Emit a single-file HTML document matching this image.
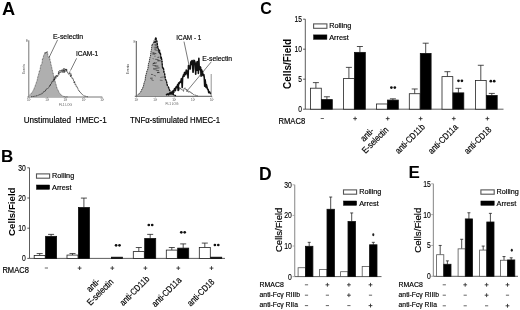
<!DOCTYPE html>
<html><head><meta charset="utf-8"><style>
html,body{margin:0;padding:0;background:#fff;}
svg{display:block;filter:grayscale(1) blur(0.3px);}
text{font-family:"Liberation Sans", sans-serif;}
</style></head><body>
<svg width="520" height="310" viewBox="0 0 520 310">
<rect width="520" height="310" fill="#fff"/>
<text x="2.00" y="15.00" font-size="18.2" text-anchor="start" font-weight="bold" >A</text>
<text x="1.00" y="162.00" font-size="17.0" text-anchor="start" font-weight="bold" >B</text>
<text x="260.30" y="13.80" font-size="16.0" text-anchor="start" font-weight="bold" >C</text>
<text x="259.00" y="180.00" font-size="17.5" text-anchor="start" font-weight="bold" >D</text>
<text x="408.50" y="178.00" font-size="17.0" text-anchor="start" font-weight="bold" >E</text>
<line x1="28.80" y1="40.30" x2="28.80" y2="97.00" stroke="#666" stroke-width="0.9"/>
<line x1="27.30" y1="97.00" x2="102.30" y2="97.00" stroke="#666" stroke-width="0.9"/>
<line x1="29.00" y1="97.00" x2="29.00" y2="98.20" stroke="#666" stroke-width="0.5"/>
<line x1="47.30" y1="97.00" x2="47.30" y2="98.20" stroke="#666" stroke-width="0.5"/>
<line x1="65.60" y1="97.00" x2="65.60" y2="98.20" stroke="#666" stroke-width="0.5"/>
<line x1="83.90" y1="97.00" x2="83.90" y2="98.20" stroke="#666" stroke-width="0.5"/>
<line x1="102.20" y1="97.00" x2="102.20" y2="98.20" stroke="#666" stroke-width="0.5"/>
<text x="28.60" y="101.40" font-size="3.0" text-anchor="middle" fill="#555" >10</text>
<text x="30.30" y="100.20" font-size="2.0" text-anchor="middle" fill="#555" >t</text>
<text x="46.90" y="101.40" font-size="3.0" text-anchor="middle" fill="#555" >10</text>
<text x="48.60" y="100.20" font-size="2.0" text-anchor="middle" fill="#555" >t</text>
<text x="65.20" y="101.40" font-size="3.0" text-anchor="middle" fill="#555" >10</text>
<text x="66.90" y="100.20" font-size="2.0" text-anchor="middle" fill="#555" >t</text>
<text x="83.50" y="101.40" font-size="3.0" text-anchor="middle" fill="#555" >10</text>
<text x="85.20" y="100.20" font-size="2.0" text-anchor="middle" fill="#555" >t</text>
<text x="101.80" y="101.40" font-size="3.0" text-anchor="middle" fill="#555" >10</text>
<text x="103.50" y="100.20" font-size="2.0" text-anchor="middle" fill="#555" >t</text>
<text x="27.00" y="42.10" font-size="3.2" text-anchor="middle" fill="#555" >E</text>
<text x="24.60" y="69.00" font-size="3.2" text-anchor="middle" transform="rotate(-90 24.60 69.00)" fill="#444" >Events</text>
<text x="65.50" y="105.80" font-size="3.2" text-anchor="middle" fill="#555" >FL1 LOG</text>
<path d="M29.50,95.12 L30.00,94.67 L30.50,94.27 L31.00,93.69 L31.50,93.09 L32.00,92.67 L32.50,91.97 L33.00,90.66 L33.50,90.09 L34.00,89.09 L34.50,87.27 L35.00,86.50 L35.50,84.71 L36.00,83.67 L36.50,81.87 L37.00,81.00 L37.50,78.43 L38.00,76.11 L38.50,74.92 L39.00,72.47 L39.50,70.65 L40.00,70.35 L40.50,66.42 L41.00,64.99 L41.50,64.09 L42.00,63.31 L42.50,58.64 L43.00,58.56 L43.50,56.21 L44.00,54.32 L44.50,53.96 L45.00,52.25 L45.50,53.93 L46.00,51.80 L46.50,53.24 L47.00,51.25 L47.50,51.98 L48.00,56.11 L48.50,56.97 L49.00,57.92 L49.50,56.54 L50.00,60.33 L50.50,61.59 L51.00,64.76 L51.50,66.25 L52.00,68.83 L52.50,71.16 L53.00,72.81 L53.50,75.05 L54.00,76.59 L54.50,79.13 L55.00,80.74 L55.50,82.76 L56.00,84.37 L56.50,86.36 L57.00,88.27 L57.50,88.98 L58.00,90.11 L58.50,91.21 L59.00,92.30 L59.50,93.03 L60.00,93.88 L60.50,94.28 L61.00,94.84 L61.50,95.30 L62.00,95.67 L62.50,95.85 L63.00,96.08 L63.50,96.34 L64.00,96.44 L64.50,96.58 L65.00,96.69 L65.50,96.76 L66.00,96.81 L66.50,96.85 L67.00,96.90 L67.50,96.92 L68.00,96.95 L68.00,97.00 L29.50,97.00 Z" fill="#afafaf" stroke="none"/>
<path d="M29.50,95.12 L30.00,94.67 L30.50,94.27 L31.00,93.69 L31.50,93.09 L32.00,92.67 L32.50,91.97 L33.00,90.66 L33.50,90.09 L34.00,89.09 L34.50,87.27 L35.00,86.50 L35.50,84.71 L36.00,83.67 L36.50,81.87 L37.00,81.00 L37.50,78.43 L38.00,76.11 L38.50,74.92 L39.00,72.47 L39.50,70.65 L40.00,70.35 L40.50,66.42 L41.00,64.99 L41.50,64.09 L42.00,63.31 L42.50,58.64 L43.00,58.56 L43.50,56.21 L44.00,54.32 L44.50,53.96 L45.00,52.25 L45.50,53.93 L46.00,51.80 L46.50,53.24 L47.00,51.25 L47.50,51.98 L48.00,56.11 L48.50,56.97 L49.00,57.92 L49.50,56.54 L50.00,60.33 L50.50,61.59 L51.00,64.76 L51.50,66.25 L52.00,68.83 L52.50,71.16 L53.00,72.81 L53.50,75.05 L54.00,76.59 L54.50,79.13 L55.00,80.74 L55.50,82.76 L56.00,84.37 L56.50,86.36 L57.00,88.27 L57.50,88.98 L58.00,90.11 L58.50,91.21 L59.00,92.30 L59.50,93.03 L60.00,93.88 L60.50,94.28 L61.00,94.84 L61.50,95.30 L62.00,95.67 L62.50,95.85 L63.00,96.08 L63.50,96.34 L64.00,96.44 L64.50,96.58 L65.00,96.69 L65.50,96.76 L66.00,96.81 L66.50,96.85 L67.00,96.90 L67.50,96.92 L68.00,96.95" fill="none" stroke="#444" stroke-width="0.7" stroke-dasharray="1 0.6"/>
<path d="M31.00,96.70 L31.40,96.66 L31.80,96.62 L32.20,96.56 L32.60,96.53 L33.00,96.46 L33.40,96.49 L33.80,96.39 L34.20,96.27 L34.60,96.24 L35.00,96.12 L35.40,96.16 L35.80,96.01 L36.20,95.96 L36.60,95.80 L37.00,95.68 L37.40,95.70 L37.80,95.53 L38.20,95.37 L38.60,95.02 L39.00,94.90 L39.40,94.96 L39.80,94.52 L40.20,94.61 L40.60,94.18 L41.00,94.22 L41.40,94.08 L41.80,93.31 L42.20,93.48 L42.60,93.21 L43.00,92.34 L43.40,92.10 L43.80,92.28 L44.20,91.32 L44.60,91.37 L45.00,90.85 L45.40,90.99 L45.80,89.72 L46.20,89.60 L46.60,88.78 L47.00,88.40 L47.40,88.82 L47.80,88.26 L48.20,88.12 L48.60,87.69 L49.00,87.36 L49.40,86.41 L49.80,85.27 L50.20,86.01 L50.60,83.98 L51.00,84.20 L51.40,83.72 L51.80,81.85 L52.20,82.15 L52.60,82.02 L53.00,80.98 L53.40,79.73 L53.80,81.13 L54.20,77.66 L54.60,80.19 L55.00,77.19 L55.40,76.27 L55.80,78.67 L56.20,75.32 L56.60,76.38 L57.00,75.05 L57.40,76.82 L57.80,76.24 L58.20,75.26 L58.60,71.58 L59.00,74.41 L59.40,71.60 L59.80,70.46 L60.20,70.05 L60.60,72.44 L61.00,72.13 L61.40,71.12 L61.80,69.74 L62.20,72.70 L62.60,69.54 L63.00,69.20 L63.40,68.83 L63.80,72.71 L64.20,68.37 L64.60,72.46 L65.00,71.30 L65.40,70.08 L65.80,68.71 L66.20,71.57 L66.60,68.99 L67.00,70.97 L67.40,72.29 L67.80,72.55 L68.20,73.49 L68.60,74.29 L69.00,74.38 L69.40,72.52 L69.80,71.77 L70.20,75.78 L70.60,76.79 L71.00,73.77 L71.40,76.19 L71.80,77.36 L72.20,78.67 L72.60,78.21 L73.00,78.27 L73.40,80.25 L73.80,81.15 L74.20,82.97 L74.60,81.50 L75.00,84.55 L75.40,84.24 L75.80,84.31 L76.20,86.58 L76.60,86.19 L77.00,86.60 L77.40,87.91 L77.80,88.41 L78.20,90.04 L78.60,90.24 L79.00,91.17 L79.40,91.01 L79.80,92.10 L80.20,92.46 L80.60,92.54 L81.00,93.12 L81.40,93.48 L81.80,94.15 L82.20,94.48 L82.60,94.69 L83.00,95.07 L83.40,95.38 L83.80,95.57 L84.20,95.82 L84.60,95.95 L85.00,96.00 L85.40,96.15 L85.80,96.32 L86.20,96.44 L86.60,96.55 L87.00,96.64 L87.40,96.69 L87.80,96.72" fill="none" stroke="#222" stroke-width="0.85" stroke-dasharray="1.2 0.5"/>
<text x="53.00" y="38.70" font-size="7.9" text-anchor="start" textLength="30.2" lengthAdjust="spacingAndGlyphs" stroke="#000" stroke-width="0.18" >E-selectin</text>
<line x1="57.60" y1="39.80" x2="49.30" y2="57.00" stroke="#222" stroke-width="0.6"/>
<text x="75.90" y="55.60" font-size="7.9" text-anchor="start" textLength="22.3" lengthAdjust="spacingAndGlyphs" stroke="#000" stroke-width="0.18" >ICAM-1</text>
<line x1="76.60" y1="58.30" x2="70.50" y2="70.50" stroke="#222" stroke-width="0.6"/>
<text x="23.70" y="123.00" font-size="8.9" text-anchor="start" textLength="83.0" lengthAdjust="spacingAndGlyphs" stroke="#000" stroke-width="0.18" xml:space="preserve">Unstimulated  HMEC-1</text>
<line x1="136.30" y1="41.00" x2="136.30" y2="96.30" stroke="#444" stroke-width="0.9"/>
<line x1="134.80" y1="96.30" x2="212.00" y2="96.30" stroke="#444" stroke-width="0.9"/>
<line x1="136.50" y1="96.30" x2="136.50" y2="97.50" stroke="#666" stroke-width="0.5"/>
<line x1="155.40" y1="96.30" x2="155.40" y2="97.50" stroke="#666" stroke-width="0.5"/>
<line x1="174.20" y1="96.30" x2="174.20" y2="97.50" stroke="#666" stroke-width="0.5"/>
<line x1="193.10" y1="96.30" x2="193.10" y2="97.50" stroke="#666" stroke-width="0.5"/>
<line x1="212.00" y1="96.30" x2="212.00" y2="97.50" stroke="#666" stroke-width="0.5"/>
<text x="136.10" y="100.70" font-size="3.0" text-anchor="middle" fill="#555" >10</text>
<text x="137.80" y="99.50" font-size="2.0" text-anchor="middle" fill="#555" >t</text>
<text x="155.00" y="100.70" font-size="3.0" text-anchor="middle" fill="#555" >10</text>
<text x="156.70" y="99.50" font-size="2.0" text-anchor="middle" fill="#555" >t</text>
<text x="173.80" y="100.70" font-size="3.0" text-anchor="middle" fill="#555" >10</text>
<text x="175.50" y="99.50" font-size="2.0" text-anchor="middle" fill="#555" >t</text>
<text x="192.70" y="100.70" font-size="3.0" text-anchor="middle" fill="#555" >10</text>
<text x="194.40" y="99.50" font-size="2.0" text-anchor="middle" fill="#555" >t</text>
<text x="211.60" y="100.70" font-size="3.0" text-anchor="middle" fill="#555" >10</text>
<text x="213.30" y="99.50" font-size="2.0" text-anchor="middle" fill="#555" >t</text>
<text x="134.50" y="42.80" font-size="3.2" text-anchor="middle" fill="#555" >E</text>
<text x="129.30" y="69.00" font-size="3.4" text-anchor="middle" transform="rotate(-90 129.30 69.00)" fill="#333" >Events</text>
<text x="172.00" y="105.00" font-size="3.2" text-anchor="middle" fill="#555" >FL1 LOG</text>
<path d="M137.50,95.00 L138.00,94.67 L138.50,94.20 L139.00,93.90 L139.50,93.37 L140.00,92.73 L140.50,92.26 L141.00,91.26 L141.50,90.25 L142.00,89.02 L142.50,88.60 L143.00,87.08 L143.50,85.98 L144.00,83.20 L144.50,81.59 L145.00,81.11 L145.50,76.79 L146.00,74.51 L146.50,73.04 L147.00,70.71 L147.50,69.95 L148.00,68.11 L148.50,63.33 L149.00,63.04 L149.50,59.93 L150.00,57.23 L150.50,56.17 L151.00,51.29 L151.50,49.33 L152.00,44.66 L152.50,45.20 L153.00,42.89 L153.50,42.79 L154.00,40.73 L154.50,41.80 L155.00,43.01 L155.50,37.62 L156.00,38.08 L156.50,39.99 L157.00,41.96 L157.50,46.03 L158.00,48.02 L158.50,49.20 L159.00,52.40 L159.50,49.90 L160.00,54.28 L160.50,53.95 L161.00,58.81 L161.50,58.27 L162.00,61.32 L162.50,67.49 L163.00,68.84 L163.50,68.47 L164.00,72.34 L164.50,72.93 L165.00,76.76 L165.50,79.51 L166.00,80.01 L166.50,81.48 L167.00,84.05 L167.50,85.78 L168.00,86.73 L168.50,87.18 L169.00,88.59 L169.50,90.21 L170.00,90.96 L170.50,91.83 L171.00,92.51 L171.50,92.74 L172.00,93.55 L172.50,93.86 L173.00,94.30 L173.50,94.70 L174.00,94.87 L174.50,95.22 L175.00,95.35 L175.50,95.59 L176.00,95.70 L176.00,96.30 L137.50,96.30 Z" fill="#afafaf" stroke="none"/>
<path d="M137.50,95.00 L138.00,94.67 L138.50,94.20 L139.00,93.90 L139.50,93.37 L140.00,92.73 L140.50,92.26 L141.00,91.26 L141.50,90.25 L142.00,89.02 L142.50,88.60 L143.00,87.08 L143.50,85.98 L144.00,83.20 L144.50,81.59 L145.00,81.11 L145.50,76.79 L146.00,74.51 L146.50,73.04 L147.00,70.71 L147.50,69.95 L148.00,68.11 L148.50,63.33 L149.00,63.04 L149.50,59.93 L150.00,57.23 L150.50,56.17 L151.00,51.29 L151.50,49.33 L152.00,44.66 L152.50,45.20 L153.00,42.89 L153.50,42.79 L154.00,40.73 L154.50,41.80 L155.00,43.01 L155.50,37.62 L156.00,38.08 L156.50,39.99 L157.00,41.96 L157.50,46.03 L158.00,48.02 L158.50,49.20 L159.00,52.40 L159.50,49.90 L160.00,54.28 L160.50,53.95 L161.00,58.81 L161.50,58.27 L162.00,61.32 L162.50,67.49 L163.00,68.84 L163.50,68.47 L164.00,72.34 L164.50,72.93 L165.00,76.76 L165.50,79.51 L166.00,80.01 L166.50,81.48 L167.00,84.05 L167.50,85.78 L168.00,86.73 L168.50,87.18 L169.00,88.59 L169.50,90.21 L170.00,90.96 L170.50,91.83 L171.00,92.51 L171.50,92.74 L172.00,93.55 L172.50,93.86 L173.00,94.30 L173.50,94.70 L174.00,94.87 L174.50,95.22 L175.00,95.35 L175.50,95.59 L176.00,95.70" fill="none" stroke="#222" stroke-width="0.9" stroke-dasharray="1.5 0.6"/>
<path d="M155.00,43.01 L155.50,37.62 L156.00,38.08 L156.50,39.99 L157.00,41.96 L157.50,46.03 L158.00,48.02 L158.50,49.20 L159.00,52.40 L159.50,49.90 L160.00,54.28 L160.50,53.95 L161.00,58.81 L161.50,58.27 L162.00,61.32 L162.50,67.49 L163.00,68.84 L163.50,68.47 L164.00,72.34 L164.50,72.93 L165.00,76.76 L165.50,79.51 L166.00,80.01 L166.50,81.48 L167.00,84.05 L167.50,85.78 L168.00,86.73 L168.50,87.18 L169.00,88.59 L169.50,90.21 L170.00,90.96 L170.50,91.83 L171.00,92.51 L171.50,92.74 L172.00,93.55 L172.50,93.86 L173.00,94.30 L173.50,94.70 L174.00,94.87 L174.50,95.22 L175.00,95.35 L175.50,95.59 L176.00,95.70" fill="none" stroke="#111" stroke-width="1.3" stroke-dasharray="2 0.8"/>
<line x1="154.57" y1="44.49" x2="156.57" y2="44.40" stroke="#222" stroke-width="1.00" opacity="0.54"/>
<line x1="154.51" y1="45.06" x2="157.41" y2="46.05" stroke="#222" stroke-width="0.90" opacity="0.60"/>
<line x1="153.71" y1="47.26" x2="157.46" y2="47.19" stroke="#222" stroke-width="0.97" opacity="0.50"/>
<line x1="155.45" y1="47.20" x2="158.21" y2="48.53" stroke="#222" stroke-width="0.91" opacity="0.72"/>
<line x1="154.34" y1="48.93" x2="156.51" y2="49.00" stroke="#222" stroke-width="1.10" opacity="0.64"/>
<line x1="154.61" y1="49.88" x2="158.36" y2="50.86" stroke="#222" stroke-width="0.84" opacity="0.53"/>
<line x1="152.90" y1="52.76" x2="156.38" y2="53.76" stroke="#222" stroke-width="1.08" opacity="0.68"/>
<line x1="152.22" y1="52.56" x2="153.78" y2="53.37" stroke="#222" stroke-width="0.73" opacity="0.60"/>
<line x1="153.60" y1="54.05" x2="155.12" y2="54.38" stroke="#222" stroke-width="0.78" opacity="0.73"/>
<line x1="152.10" y1="53.94" x2="154.13" y2="54.09" stroke="#222" stroke-width="1.01" opacity="0.57"/>
<line x1="157.47" y1="57.48" x2="159.30" y2="57.14" stroke="#222" stroke-width="1.00" opacity="0.66"/>
<line x1="154.10" y1="56.33" x2="155.84" y2="56.12" stroke="#222" stroke-width="0.77" opacity="0.50"/>
<line x1="155.11" y1="59.27" x2="158.53" y2="59.62" stroke="#222" stroke-width="0.75" opacity="0.74"/>
<line x1="152.47" y1="58.45" x2="154.15" y2="58.99" stroke="#222" stroke-width="0.72" opacity="0.53"/>
<line x1="157.09" y1="60.81" x2="159.59" y2="60.64" stroke="#222" stroke-width="0.74" opacity="0.76"/>
<line x1="157.85" y1="60.78" x2="161.15" y2="60.81" stroke="#222" stroke-width="0.82" opacity="0.68"/>
<line x1="153.08" y1="63.81" x2="156.76" y2="62.79" stroke="#222" stroke-width="1.02" opacity="0.69"/>
<line x1="152.58" y1="63.86" x2="154.82" y2="62.45" stroke="#222" stroke-width="0.88" opacity="0.79"/>
<line x1="154.63" y1="66.02" x2="158.40" y2="66.11" stroke="#222" stroke-width="0.91" opacity="0.78"/>
<line x1="152.50" y1="65.28" x2="156.21" y2="65.80" stroke="#222" stroke-width="0.94" opacity="0.55"/>
<line x1="155.54" y1="68.24" x2="159.51" y2="67.83" stroke="#222" stroke-width="0.85" opacity="0.76"/>
<line x1="153.14" y1="68.28" x2="156.31" y2="69.09" stroke="#222" stroke-width="0.78" opacity="0.68"/>
<line x1="155.91" y1="70.20" x2="159.06" y2="70.69" stroke="#222" stroke-width="0.79" opacity="0.75"/>
<line x1="153.05" y1="69.19" x2="155.55" y2="69.89" stroke="#222" stroke-width="0.70" opacity="0.56"/>
<line x1="157.09" y1="72.81" x2="159.01" y2="72.22" stroke="#222" stroke-width="0.78" opacity="0.71"/>
<line x1="157.00" y1="72.40" x2="159.67" y2="72.64" stroke="#222" stroke-width="0.95" opacity="0.72"/>
<line x1="151.17" y1="74.40" x2="152.72" y2="74.57" stroke="#222" stroke-width="0.93" opacity="0.79"/>
<line x1="153.57" y1="75.12" x2="155.99" y2="76.10" stroke="#222" stroke-width="0.94" opacity="0.55"/>
<line x1="160.28" y1="77.52" x2="163.76" y2="76.90" stroke="#222" stroke-width="0.88" opacity="0.49"/>
<line x1="150.08" y1="78.25" x2="152.70" y2="78.17" stroke="#222" stroke-width="0.87" opacity="0.78"/>
<line x1="151.33" y1="79.65" x2="153.52" y2="80.47" stroke="#222" stroke-width="0.85" opacity="0.74"/>
<line x1="159.85" y1="80.17" x2="162.54" y2="80.47" stroke="#222" stroke-width="0.89" opacity="0.51"/>
<path d="M166.00,95.51 L166.50,95.06 L167.00,94.86 L167.50,94.48 L168.00,95.00 L168.50,94.76 L169.00,94.69 L169.50,94.36 L170.00,93.18 L170.50,94.09 L171.00,92.95 L171.50,93.42 L172.00,92.94 L172.50,92.26 L173.00,90.65 L173.50,91.03 L174.00,92.86 L174.50,91.65 L175.00,91.94 L175.50,88.66 L176.00,88.62 L176.50,88.38 L177.00,88.06 L177.50,88.26 L178.00,87.12 L178.50,87.77 L179.00,90.38 L179.50,87.39 L180.00,89.21 L180.50,87.90 L181.00,88.90 L181.50,89.63 L182.00,90.02 L182.50,89.78 L183.00,90.42 L183.50,91.41 L184.00,88.25 L184.50,88.46 L185.00,87.74 L185.50,89.17 L186.00,89.88 L186.50,89.18 L187.00,91.89 L187.50,89.81 L188.00,90.93 L188.50,92.14 L189.00,92.23 L189.50,91.35 L190.00,92.51 L190.50,92.16 L191.00,92.09 L191.50,92.99 L192.00,93.92 L192.50,93.46 L193.00,94.26 L193.50,94.53 L194.00,94.84 L194.50,94.87 L195.00,95.38 L195.50,95.11 L196.00,95.14 L196.50,95.65 L197.00,95.66 L197.50,95.73 L198.00,96.07" fill="none" stroke="#333" stroke-width="0.6"/>
<path d="M166.00,94.86 L166.45,94.53 L166.90,94.56 L167.35,94.11 L167.80,94.07 L168.25,94.17 L168.70,94.64 L169.15,93.63 L169.60,93.55 L170.05,92.76 L170.50,93.48 L170.95,94.10 L171.40,93.89 L171.85,92.18 L172.30,91.48 L172.75,91.26 L173.20,93.41 L173.65,90.67 L174.10,90.32 L174.55,88.78 L175.00,88.51 L175.45,90.34 L175.90,87.33 L176.35,86.56 L176.80,87.12 L177.25,86.47 L177.70,84.52 L178.15,90.50 L178.60,83.15 L179.05,83.92 L179.50,82.46 L179.95,82.20 L180.40,81.44 L180.85,82.36 L181.30,78.81 L181.75,79.31 L182.20,87.44 L182.65,76.98 L183.10,76.59 L183.55,74.76 L184.00,76.32 L184.45,72.73 L184.90,72.27 L185.35,74.19 L185.80,74.62 L186.25,70.16 L186.70,71.27 L187.15,73.19 L187.60,71.00 L188.05,77.97 L188.50,65.51 L188.95,65.80 L189.40,68.57 L189.85,65.97 L190.30,69.01 L190.75,62.37 L191.20,61.42 L191.65,64.37 L192.10,60.52 L192.55,62.53 L193.00,72.25 L193.45,69.49 L193.90,60.41 L194.35,60.58 L194.80,61.81 L195.25,63.66 L195.70,74.22 L196.15,63.54 L196.60,70.22 L197.05,61.83 L197.50,70.12 L197.95,61.57 L198.40,73.35 L198.85,58.40 L199.30,69.77 L199.75,66.73 L200.20,66.88 L200.65,67.48 L201.10,76.15 L201.55,69.80 L202.00,71.38 L202.45,71.41 L202.90,75.57 L203.35,74.98 L203.80,74.48 L204.25,77.45 L204.70,86.13 L205.15,79.74 L205.60,83.50 L206.05,87.50 L206.50,84.82 L206.95,86.97 L207.40,88.94 L207.85,89.12 L208.30,90.14 L208.75,92.72 L209.20,91.88 L209.65,91.97 L210.10,92.91 L210.55,93.49 L211.00,93.79" fill="none" stroke="#111" stroke-width="1.6" stroke-linejoin="round"/>
<line x1="211.20" y1="74.00" x2="211.20" y2="96.30" stroke="#666" stroke-width="0.7"/>
<text x="176.30" y="40.30" font-size="7.9" text-anchor="start" textLength="25.0" lengthAdjust="spacingAndGlyphs" stroke="#000" stroke-width="0.18" xml:space="preserve">ICAM - 1</text>
<line x1="184.00" y1="41.60" x2="189.40" y2="67.00" stroke="#222" stroke-width="0.6"/>
<text x="202.30" y="60.60" font-size="7.9" text-anchor="start" textLength="29.8" lengthAdjust="spacingAndGlyphs" stroke="#000" stroke-width="0.18" >E-selectin</text>
<line x1="211.30" y1="61.80" x2="188.00" y2="89.80" stroke="#222" stroke-width="0.6"/>
<text x="130.00" y="122.60" font-size="8.9" text-anchor="start" textLength="90.0" lengthAdjust="spacingAndGlyphs" stroke="#000" stroke-width="0.18" >TNF&#945;-stimulated HMEC-1</text>
<line x1="29.50" y1="167.80" x2="29.50" y2="258.40" stroke="#333" stroke-width="0.8"/>
<line x1="29.50" y1="258.40" x2="225.00" y2="258.40" stroke="#333" stroke-width="0.8"/>
<line x1="27.30" y1="258.40" x2="29.50" y2="258.40" stroke="#333" stroke-width="0.8"/>
<text transform="translate(25.90,261.40) scale(0.8,1)" font-size="8.5" text-anchor="end" stroke="#000" stroke-width="0.15">0</text>
<line x1="27.30" y1="228.20" x2="29.50" y2="228.20" stroke="#333" stroke-width="0.8"/>
<text transform="translate(25.90,231.20) scale(0.8,1)" font-size="8.5" text-anchor="end" stroke="#000" stroke-width="0.15">10</text>
<line x1="27.30" y1="198.00" x2="29.50" y2="198.00" stroke="#333" stroke-width="0.8"/>
<text transform="translate(25.90,201.00) scale(0.8,1)" font-size="8.5" text-anchor="end" stroke="#000" stroke-width="0.15">20</text>
<line x1="27.30" y1="167.80" x2="29.50" y2="167.80" stroke="#333" stroke-width="0.8"/>
<text transform="translate(25.90,170.80) scale(0.8,1)" font-size="8.5" text-anchor="end" stroke="#000" stroke-width="0.15">30</text>
<text x="14.80" y="211.70" font-size="9.7" text-anchor="middle" font-weight="bold" transform="rotate(-90 14.80 211.70)" >Cells/Field</text>
<line x1="39.70" y1="255.50" x2="39.70" y2="253.57" stroke="#222" stroke-width="0.8"/>
<line x1="36.70" y1="253.57" x2="42.70" y2="253.57" stroke="#222" stroke-width="0.8"/>
<rect x="34.20" y="255.50" width="11.00" height="2.90" fill="#fff" stroke="#222" stroke-width="0.8"/>
<line x1="51.10" y1="236.35" x2="51.10" y2="234.39" stroke="#222" stroke-width="0.8"/>
<line x1="48.10" y1="234.39" x2="54.10" y2="234.39" stroke="#222" stroke-width="0.8"/>
<rect x="45.60" y="236.35" width="11.00" height="22.05" fill="#000" stroke="#111" stroke-width="0.8"/>
<line x1="72.50" y1="255.08" x2="72.50" y2="253.57" stroke="#222" stroke-width="0.8"/>
<line x1="69.50" y1="253.57" x2="75.50" y2="253.57" stroke="#222" stroke-width="0.8"/>
<rect x="67.00" y="255.08" width="11.00" height="3.32" fill="#fff" stroke="#222" stroke-width="0.8"/>
<line x1="83.90" y1="207.51" x2="83.90" y2="198.09" stroke="#222" stroke-width="0.8"/>
<line x1="80.90" y1="198.09" x2="86.90" y2="198.09" stroke="#222" stroke-width="0.8"/>
<rect x="78.40" y="207.51" width="11.00" height="50.89" fill="#000" stroke="#111" stroke-width="0.8"/>
<rect x="111.40" y="257.19" width="11.00" height="1.21" fill="#000" stroke="#111" stroke-width="0.8"/>
<line x1="138.80" y1="251.60" x2="138.80" y2="247.53" stroke="#222" stroke-width="0.8"/>
<line x1="135.80" y1="247.53" x2="141.80" y2="247.53" stroke="#222" stroke-width="0.8"/>
<rect x="133.30" y="251.60" width="11.00" height="6.79" fill="#fff" stroke="#222" stroke-width="0.8"/>
<line x1="150.20" y1="238.47" x2="150.20" y2="234.39" stroke="#222" stroke-width="0.8"/>
<line x1="147.20" y1="234.39" x2="153.20" y2="234.39" stroke="#222" stroke-width="0.8"/>
<rect x="144.70" y="238.47" width="11.00" height="19.93" fill="#000" stroke="#111" stroke-width="0.8"/>
<line x1="171.80" y1="250.09" x2="171.80" y2="247.53" stroke="#222" stroke-width="0.8"/>
<line x1="168.80" y1="247.53" x2="174.80" y2="247.53" stroke="#222" stroke-width="0.8"/>
<rect x="166.30" y="250.09" width="11.00" height="8.30" fill="#fff" stroke="#222" stroke-width="0.8"/>
<line x1="183.20" y1="248.13" x2="183.20" y2="243.90" stroke="#222" stroke-width="0.8"/>
<line x1="180.20" y1="243.90" x2="186.20" y2="243.90" stroke="#222" stroke-width="0.8"/>
<rect x="177.70" y="248.13" width="11.00" height="10.27" fill="#000" stroke="#111" stroke-width="0.8"/>
<line x1="204.80" y1="247.53" x2="204.80" y2="243.09" stroke="#222" stroke-width="0.8"/>
<line x1="201.80" y1="243.09" x2="207.80" y2="243.09" stroke="#222" stroke-width="0.8"/>
<rect x="199.30" y="247.53" width="11.00" height="10.87" fill="#fff" stroke="#222" stroke-width="0.8"/>
<rect x="210.70" y="257.19" width="11.00" height="1.21" fill="#000" stroke="#111" stroke-width="0.8"/>
<line x1="305.30" y1="19.20" x2="305.30" y2="109.20" stroke="#333" stroke-width="0.8"/>
<line x1="305.30" y1="109.20" x2="503.50" y2="109.20" stroke="#333" stroke-width="0.8"/>
<line x1="303.10" y1="109.20" x2="305.30" y2="109.20" stroke="#333" stroke-width="0.8"/>
<text transform="translate(301.90,112.20) scale(0.8,1)" font-size="8.3" text-anchor="end" stroke="#000" stroke-width="0.15">0</text>
<line x1="303.10" y1="79.20" x2="305.30" y2="79.20" stroke="#333" stroke-width="0.8"/>
<text transform="translate(301.90,82.20) scale(0.8,1)" font-size="8.3" text-anchor="end" stroke="#000" stroke-width="0.15">5</text>
<line x1="303.10" y1="49.20" x2="305.30" y2="49.20" stroke="#333" stroke-width="0.8"/>
<text transform="translate(301.90,52.20) scale(0.8,1)" font-size="8.3" text-anchor="end" stroke="#000" stroke-width="0.15">10</text>
<line x1="303.10" y1="19.20" x2="305.30" y2="19.20" stroke="#333" stroke-width="0.8"/>
<text transform="translate(301.90,22.20) scale(0.8,1)" font-size="8.3" text-anchor="end" stroke="#000" stroke-width="0.15">15</text>
<text x="291.00" y="63.90" font-size="10.0" text-anchor="middle" font-weight="bold" transform="rotate(-90 291.00 63.90)" >Cells/Field</text>
<line x1="315.90" y1="88.20" x2="315.90" y2="82.62" stroke="#222" stroke-width="0.8"/>
<line x1="312.90" y1="82.62" x2="318.90" y2="82.62" stroke="#222" stroke-width="0.8"/>
<rect x="310.50" y="88.20" width="10.80" height="21.00" fill="#fff" stroke="#222" stroke-width="0.8"/>
<line x1="326.90" y1="99.60" x2="326.90" y2="96.78" stroke="#222" stroke-width="0.8"/>
<line x1="323.90" y1="96.78" x2="329.90" y2="96.78" stroke="#222" stroke-width="0.8"/>
<rect x="321.50" y="99.60" width="10.80" height="9.60" fill="#000" stroke="#111" stroke-width="0.8"/>
<line x1="348.90" y1="78.60" x2="348.90" y2="67.38" stroke="#222" stroke-width="0.8"/>
<line x1="345.90" y1="67.38" x2="351.90" y2="67.38" stroke="#222" stroke-width="0.8"/>
<rect x="343.50" y="78.60" width="10.80" height="30.60" fill="#fff" stroke="#222" stroke-width="0.8"/>
<line x1="359.90" y1="52.38" x2="359.90" y2="46.50" stroke="#222" stroke-width="0.8"/>
<line x1="356.90" y1="46.50" x2="362.90" y2="46.50" stroke="#222" stroke-width="0.8"/>
<rect x="354.50" y="52.38" width="10.80" height="56.82" fill="#000" stroke="#111" stroke-width="0.8"/>
<rect x="376.50" y="103.98" width="10.80" height="5.22" fill="#fff" stroke="#222" stroke-width="0.8"/>
<line x1="392.90" y1="100.08" x2="392.90" y2="98.82" stroke="#222" stroke-width="0.8"/>
<line x1="389.90" y1="98.82" x2="395.90" y2="98.82" stroke="#222" stroke-width="0.8"/>
<rect x="387.50" y="100.08" width="10.80" height="9.12" fill="#000" stroke="#111" stroke-width="0.8"/>
<line x1="414.70" y1="93.72" x2="414.70" y2="88.98" stroke="#222" stroke-width="0.8"/>
<line x1="411.70" y1="88.98" x2="417.70" y2="88.98" stroke="#222" stroke-width="0.8"/>
<rect x="409.30" y="93.72" width="10.80" height="15.48" fill="#fff" stroke="#222" stroke-width="0.8"/>
<line x1="425.70" y1="53.40" x2="425.70" y2="43.20" stroke="#222" stroke-width="0.8"/>
<line x1="422.70" y1="43.20" x2="428.70" y2="43.20" stroke="#222" stroke-width="0.8"/>
<rect x="420.30" y="53.40" width="10.80" height="55.80" fill="#000" stroke="#111" stroke-width="0.8"/>
<line x1="447.40" y1="76.62" x2="447.40" y2="71.70" stroke="#222" stroke-width="0.8"/>
<line x1="444.40" y1="71.70" x2="450.40" y2="71.70" stroke="#222" stroke-width="0.8"/>
<rect x="442.00" y="76.62" width="10.80" height="32.58" fill="#fff" stroke="#222" stroke-width="0.8"/>
<line x1="458.40" y1="92.88" x2="458.40" y2="88.32" stroke="#222" stroke-width="0.8"/>
<line x1="455.40" y1="88.32" x2="461.40" y2="88.32" stroke="#222" stroke-width="0.8"/>
<rect x="453.00" y="92.88" width="10.80" height="16.32" fill="#000" stroke="#111" stroke-width="0.8"/>
<line x1="480.80" y1="80.52" x2="480.80" y2="65.28" stroke="#222" stroke-width="0.8"/>
<line x1="477.80" y1="65.28" x2="483.80" y2="65.28" stroke="#222" stroke-width="0.8"/>
<rect x="475.40" y="80.52" width="10.80" height="28.68" fill="#fff" stroke="#222" stroke-width="0.8"/>
<line x1="491.80" y1="95.52" x2="491.80" y2="93.42" stroke="#222" stroke-width="0.8"/>
<line x1="488.80" y1="93.42" x2="494.80" y2="93.42" stroke="#222" stroke-width="0.8"/>
<rect x="486.40" y="95.52" width="10.80" height="13.68" fill="#000" stroke="#111" stroke-width="0.8"/>
<line x1="294.70" y1="184.80" x2="294.70" y2="276.60" stroke="#999" stroke-width="1.2"/>
<line x1="294.70" y1="276.60" x2="381.50" y2="276.60" stroke="#333" stroke-width="0.8"/>
<line x1="292.50" y1="276.60" x2="294.70" y2="276.60" stroke="#999" stroke-width="0.8"/>
<text transform="translate(291.90,279.60) scale(0.8,1)" font-size="8.5" text-anchor="end" stroke="#000" stroke-width="0.15">0</text>
<line x1="292.50" y1="246.00" x2="294.70" y2="246.00" stroke="#999" stroke-width="0.8"/>
<text transform="translate(291.90,249.00) scale(0.8,1)" font-size="8.5" text-anchor="end" stroke="#000" stroke-width="0.15">10</text>
<line x1="292.50" y1="215.40" x2="294.70" y2="215.40" stroke="#999" stroke-width="0.8"/>
<text transform="translate(291.90,218.40) scale(0.8,1)" font-size="8.5" text-anchor="end" stroke="#000" stroke-width="0.15">20</text>
<line x1="292.50" y1="184.80" x2="294.70" y2="184.80" stroke="#999" stroke-width="0.8"/>
<text transform="translate(291.90,187.80) scale(0.8,1)" font-size="8.5" text-anchor="end" stroke="#000" stroke-width="0.15">30</text>
<text x="281.60" y="229.80" font-size="9.5" text-anchor="middle" transform="rotate(-90 281.60 229.80)" stroke="#000" stroke-width="0.18" >Cells/Field</text>
<rect x="298.10" y="267.73" width="7.40" height="8.87" fill="#fff" stroke="#555" stroke-width="0.8"/>
<line x1="309.20" y1="246.31" x2="309.20" y2="242.33" stroke="#222" stroke-width="0.8"/>
<line x1="307.70" y1="242.33" x2="310.70" y2="242.33" stroke="#222" stroke-width="0.8"/>
<rect x="305.50" y="246.31" width="7.40" height="30.29" fill="#000" stroke="#111" stroke-width="0.8"/>
<rect x="319.60" y="269.56" width="7.40" height="7.04" fill="#fff" stroke="#555" stroke-width="0.8"/>
<line x1="330.70" y1="209.28" x2="330.70" y2="197.04" stroke="#222" stroke-width="0.8"/>
<line x1="329.20" y1="197.04" x2="332.20" y2="197.04" stroke="#222" stroke-width="0.8"/>
<rect x="327.00" y="209.28" width="7.40" height="67.32" fill="#000" stroke="#111" stroke-width="0.8"/>
<rect x="340.60" y="271.70" width="7.40" height="4.90" fill="#fff" stroke="#555" stroke-width="0.8"/>
<line x1="351.70" y1="221.52" x2="351.70" y2="212.95" stroke="#222" stroke-width="0.8"/>
<line x1="350.20" y1="212.95" x2="353.20" y2="212.95" stroke="#222" stroke-width="0.8"/>
<rect x="348.00" y="221.52" width="7.40" height="55.08" fill="#000" stroke="#111" stroke-width="0.8"/>
<rect x="362.20" y="266.50" width="7.40" height="10.10" fill="#fff" stroke="#555" stroke-width="0.8"/>
<line x1="373.30" y1="244.78" x2="373.30" y2="242.33" stroke="#222" stroke-width="0.8"/>
<line x1="371.80" y1="242.33" x2="374.80" y2="242.33" stroke="#222" stroke-width="0.8"/>
<rect x="369.60" y="244.78" width="7.40" height="31.82" fill="#000" stroke="#111" stroke-width="0.8"/>
<line x1="433.40" y1="183.75" x2="433.40" y2="276.30" stroke="#999" stroke-width="1.2"/>
<line x1="433.40" y1="276.30" x2="518.00" y2="276.30" stroke="#333" stroke-width="0.8"/>
<line x1="431.20" y1="276.30" x2="433.40" y2="276.30" stroke="#999" stroke-width="0.8"/>
<text transform="translate(430.70,279.30) scale(0.8,1)" font-size="8.5" text-anchor="end" stroke="#000" stroke-width="0.15">0</text>
<line x1="431.20" y1="245.45" x2="433.40" y2="245.45" stroke="#999" stroke-width="0.8"/>
<text transform="translate(430.70,248.45) scale(0.8,1)" font-size="8.5" text-anchor="end" stroke="#000" stroke-width="0.15">5</text>
<line x1="431.20" y1="214.60" x2="433.40" y2="214.60" stroke="#999" stroke-width="0.8"/>
<text transform="translate(430.70,217.60) scale(0.8,1)" font-size="8.5" text-anchor="end" stroke="#000" stroke-width="0.15">10</text>
<line x1="431.20" y1="183.75" x2="433.40" y2="183.75" stroke="#999" stroke-width="0.8"/>
<text transform="translate(430.70,186.75) scale(0.8,1)" font-size="8.5" text-anchor="end" stroke="#000" stroke-width="0.15">15</text>
<text x="420.60" y="230.20" font-size="9.7" text-anchor="middle" transform="rotate(-90 420.60 230.20)" stroke="#000" stroke-width="0.18" >Cells/Field</text>
<line x1="440.20" y1="254.71" x2="440.20" y2="245.45" stroke="#222" stroke-width="0.8"/>
<line x1="438.70" y1="245.45" x2="441.70" y2="245.45" stroke="#222" stroke-width="0.8"/>
<rect x="436.60" y="254.71" width="7.20" height="21.59" fill="#fff" stroke="#555" stroke-width="0.8"/>
<line x1="447.40" y1="264.27" x2="447.40" y2="260.88" stroke="#222" stroke-width="0.8"/>
<line x1="445.90" y1="260.88" x2="448.90" y2="260.88" stroke="#222" stroke-width="0.8"/>
<rect x="443.80" y="264.27" width="7.20" height="12.03" fill="#000" stroke="#111" stroke-width="0.8"/>
<line x1="461.70" y1="248.84" x2="461.70" y2="239.28" stroke="#222" stroke-width="0.8"/>
<line x1="460.20" y1="239.28" x2="463.20" y2="239.28" stroke="#222" stroke-width="0.8"/>
<rect x="458.10" y="248.84" width="7.20" height="27.46" fill="#fff" stroke="#555" stroke-width="0.8"/>
<line x1="468.90" y1="218.92" x2="468.90" y2="212.75" stroke="#222" stroke-width="0.8"/>
<line x1="467.40" y1="212.75" x2="470.40" y2="212.75" stroke="#222" stroke-width="0.8"/>
<rect x="465.30" y="218.92" width="7.20" height="57.38" fill="#000" stroke="#111" stroke-width="0.8"/>
<line x1="483.20" y1="250.08" x2="483.20" y2="246.07" stroke="#222" stroke-width="0.8"/>
<line x1="481.70" y1="246.07" x2="484.70" y2="246.07" stroke="#222" stroke-width="0.8"/>
<rect x="479.60" y="250.08" width="7.20" height="26.22" fill="#fff" stroke="#555" stroke-width="0.8"/>
<line x1="490.40" y1="222.00" x2="490.40" y2="213.37" stroke="#222" stroke-width="0.8"/>
<line x1="488.90" y1="213.37" x2="491.90" y2="213.37" stroke="#222" stroke-width="0.8"/>
<rect x="486.80" y="222.00" width="7.20" height="54.30" fill="#000" stroke="#111" stroke-width="0.8"/>
<line x1="504.00" y1="260.26" x2="504.00" y2="256.56" stroke="#222" stroke-width="0.8"/>
<line x1="502.50" y1="256.56" x2="505.50" y2="256.56" stroke="#222" stroke-width="0.8"/>
<rect x="500.40" y="260.26" width="7.20" height="16.04" fill="#fff" stroke="#555" stroke-width="0.8"/>
<line x1="511.20" y1="259.95" x2="511.20" y2="257.79" stroke="#222" stroke-width="0.8"/>
<line x1="509.70" y1="257.79" x2="512.70" y2="257.79" stroke="#222" stroke-width="0.8"/>
<rect x="507.60" y="259.95" width="7.20" height="16.35" fill="#000" stroke="#111" stroke-width="0.8"/>
<rect x="36.50" y="173.90" width="13.10" height="4.30" fill="#fff" stroke="#555" stroke-width="1.1"/>
<rect x="36.50" y="185.00" width="13.10" height="4.30" fill="#000" stroke="#000" stroke-width="0.5"/>
<text x="52.00" y="178.20" font-size="7.7" text-anchor="start" textLength="22.2" lengthAdjust="spacingAndGlyphs" stroke="#000" stroke-width="0.18" >Rolling</text>
<text x="52.00" y="189.50" font-size="7.7" text-anchor="start" textLength="19.6" lengthAdjust="spacingAndGlyphs" stroke="#000" stroke-width="0.18" >Arrest</text>
<rect x="313.60" y="23.90" width="13.30" height="4.40" fill="#fff" stroke="#555" stroke-width="1.1"/>
<rect x="313.60" y="34.90" width="13.30" height="4.40" fill="#000" stroke="#000" stroke-width="0.5"/>
<text x="329.20" y="28.30" font-size="7.6" text-anchor="start" textLength="22.2" lengthAdjust="spacingAndGlyphs" stroke="#000" stroke-width="0.18" >Rolling</text>
<text x="329.20" y="39.50" font-size="7.6" text-anchor="start" textLength="19.6" lengthAdjust="spacingAndGlyphs" stroke="#000" stroke-width="0.18" >Arrest</text>
<rect x="343.50" y="189.90" width="13.10" height="4.30" fill="#fff" stroke="#555" stroke-width="1.1"/>
<rect x="343.50" y="201.00" width="13.10" height="4.30" fill="#000" stroke="#000" stroke-width="0.5"/>
<text x="359.20" y="194.20" font-size="7.7" text-anchor="start" textLength="22.2" lengthAdjust="spacingAndGlyphs" stroke="#000" stroke-width="0.18" >Rolling</text>
<text x="359.20" y="205.50" font-size="7.7" text-anchor="start" textLength="19.6" lengthAdjust="spacingAndGlyphs" stroke="#000" stroke-width="0.18" >Arrest</text>
<rect x="480.90" y="189.90" width="13.30" height="4.30" fill="#fff" stroke="#555" stroke-width="1.1"/>
<rect x="480.90" y="201.00" width="13.30" height="4.30" fill="#000" stroke="#000" stroke-width="0.5"/>
<text x="496.60" y="194.20" font-size="7.7" text-anchor="start" textLength="22.2" lengthAdjust="spacingAndGlyphs" stroke="#000" stroke-width="0.18" >Rolling</text>
<text x="496.60" y="205.50" font-size="7.7" text-anchor="start" textLength="19.6" lengthAdjust="spacingAndGlyphs" stroke="#000" stroke-width="0.18" >Arrest</text>
<circle cx="116.10" cy="245.30" r="1.35" fill="#111"/>
<circle cx="119.50" cy="245.30" r="1.35" fill="#111"/>
<circle cx="148.80" cy="225.00" r="1.35" fill="#111"/>
<circle cx="152.20" cy="225.00" r="1.35" fill="#111"/>
<circle cx="181.30" cy="232.30" r="1.35" fill="#111"/>
<circle cx="184.70" cy="232.30" r="1.35" fill="#111"/>
<circle cx="214.90" cy="245.00" r="1.35" fill="#111"/>
<circle cx="218.30" cy="245.00" r="1.35" fill="#111"/>
<circle cx="391.40" cy="87.60" r="1.35" fill="#111"/>
<circle cx="394.80" cy="87.60" r="1.35" fill="#111"/>
<circle cx="458.50" cy="80.80" r="1.35" fill="#111"/>
<circle cx="461.90" cy="80.80" r="1.35" fill="#111"/>
<circle cx="490.80" cy="81.20" r="1.35" fill="#111"/>
<circle cx="494.20" cy="81.20" r="1.35" fill="#111"/>
<ellipse cx="373.30" cy="234.80" rx="1.05" ry="1.45" fill="#222"/>
<ellipse cx="511.80" cy="250.30" rx="1.05" ry="1.45" fill="#222"/>
<text font-size="8.4" text-anchor="start" transform="translate(2.40 273.20) scale(0.9 1)" stroke="#000" stroke-width="0.18" >RMAC8</text>
<line x1="44.80" y1="268.00" x2="48.00" y2="268.00" stroke="#555" stroke-width="0.9"/>
<line x1="77.70" y1="268.10" x2="81.50" y2="268.10" stroke="#333" stroke-width="0.9"/>
<line x1="79.60" y1="266.20" x2="79.60" y2="270.00" stroke="#333" stroke-width="0.9"/>
<line x1="110.40" y1="268.10" x2="114.20" y2="268.10" stroke="#333" stroke-width="0.9"/>
<line x1="112.30" y1="266.20" x2="112.30" y2="270.00" stroke="#333" stroke-width="0.9"/>
<line x1="143.50" y1="268.10" x2="147.30" y2="268.10" stroke="#333" stroke-width="0.9"/>
<line x1="145.40" y1="266.20" x2="145.40" y2="270.00" stroke="#333" stroke-width="0.9"/>
<line x1="176.40" y1="268.10" x2="180.20" y2="268.10" stroke="#333" stroke-width="0.9"/>
<line x1="178.30" y1="266.20" x2="178.30" y2="270.00" stroke="#333" stroke-width="0.9"/>
<line x1="209.60" y1="268.10" x2="213.40" y2="268.10" stroke="#333" stroke-width="0.9"/>
<line x1="211.50" y1="266.20" x2="211.50" y2="270.00" stroke="#333" stroke-width="0.9"/>
<text font-size="9.0" text-anchor="end" transform="translate(100.50 282.00) rotate(-45) scale(0.845 1)" stroke="#000" stroke-width="0.18" >anti-</text>
<text font-size="9.0" text-anchor="end" transform="translate(114.00 282.50) rotate(-45) scale(0.845 1)" stroke="#000" stroke-width="0.18" >E-selectin</text>
<text font-size="9.0" text-anchor="end" transform="translate(150.00 279.50) rotate(-45) scale(0.845 1)" stroke="#000" stroke-width="0.18" >anti-CD11b</text>
<text font-size="9.0" text-anchor="end" transform="translate(182.00 280.80) rotate(-45) scale(0.845 1)" stroke="#000" stroke-width="0.18" >anti-CD11a</text>
<text font-size="9.0" text-anchor="end" transform="translate(215.00 282.50) rotate(-45) scale(0.845 1)" stroke="#000" stroke-width="0.18" >anti-CD18</text>
<text font-size="9.0" text-anchor="start" transform="translate(278.40 123.80) scale(0.85 1)" stroke="#000" stroke-width="0.18" >RMAC8</text>
<line x1="320.70" y1="118.50" x2="323.90" y2="118.50" stroke="#555" stroke-width="0.9"/>
<line x1="353.20" y1="118.60" x2="357.00" y2="118.60" stroke="#333" stroke-width="0.9"/>
<line x1="355.10" y1="116.70" x2="355.10" y2="120.50" stroke="#333" stroke-width="0.9"/>
<line x1="385.80" y1="118.60" x2="389.60" y2="118.60" stroke="#333" stroke-width="0.9"/>
<line x1="387.70" y1="116.70" x2="387.70" y2="120.50" stroke="#333" stroke-width="0.9"/>
<line x1="418.70" y1="118.60" x2="422.50" y2="118.60" stroke="#333" stroke-width="0.9"/>
<line x1="420.60" y1="116.70" x2="420.60" y2="120.50" stroke="#333" stroke-width="0.9"/>
<line x1="451.90" y1="118.60" x2="455.70" y2="118.60" stroke="#333" stroke-width="0.9"/>
<line x1="453.80" y1="116.70" x2="453.80" y2="120.50" stroke="#333" stroke-width="0.9"/>
<line x1="485.50" y1="118.60" x2="489.30" y2="118.60" stroke="#333" stroke-width="0.9"/>
<line x1="487.40" y1="116.70" x2="487.40" y2="120.50" stroke="#333" stroke-width="0.9"/>
<text font-size="9.0" text-anchor="end" transform="translate(374.50 131.50) rotate(-45) scale(0.845 1)" stroke="#000" stroke-width="0.18" >anti-</text>
<text font-size="9.0" text-anchor="end" transform="translate(389.00 130.50) rotate(-45) scale(0.845 1)" stroke="#000" stroke-width="0.18" >E-selectin</text>
<text font-size="9.0" text-anchor="end" transform="translate(425.50 127.50) rotate(-45) scale(0.845 1)" stroke="#000" stroke-width="0.18" >anti-CD11b</text>
<text font-size="9.0" text-anchor="end" transform="translate(458.50 127.80) rotate(-45) scale(0.845 1)" stroke="#000" stroke-width="0.18" >anti-CD11a</text>
<text font-size="9.0" text-anchor="end" transform="translate(492.00 130.30) rotate(-45) scale(0.845 1)" stroke="#000" stroke-width="0.18" >anti-CD18</text>
<text x="259.60" y="287.10" font-size="7.3" text-anchor="start" textLength="24.2" lengthAdjust="spacingAndGlyphs" stroke="#000" stroke-width="0.18" >RMAC8</text>
<text x="259.60" y="297.30" font-size="7.3" text-anchor="start" textLength="40.4" lengthAdjust="spacingAndGlyphs" stroke="#000" stroke-width="0.18" >anti-Fc&#947; RIIIb</text>
<text x="259.60" y="307.20" font-size="7.3" text-anchor="start" textLength="38.4" lengthAdjust="spacingAndGlyphs" stroke="#000" stroke-width="0.18" >anti-Fc&#947; RIIa</text>
<line x1="304.90" y1="284.80" x2="308.10" y2="284.80" stroke="#555" stroke-width="0.9"/>
<line x1="325.50" y1="284.80" x2="329.30" y2="284.80" stroke="#333" stroke-width="0.9"/>
<line x1="327.40" y1="282.90" x2="327.40" y2="286.70" stroke="#333" stroke-width="0.9"/>
<line x1="347.00" y1="284.80" x2="350.80" y2="284.80" stroke="#333" stroke-width="0.9"/>
<line x1="348.90" y1="282.90" x2="348.90" y2="286.70" stroke="#333" stroke-width="0.9"/>
<line x1="368.60" y1="284.80" x2="372.40" y2="284.80" stroke="#333" stroke-width="0.9"/>
<line x1="370.50" y1="282.90" x2="370.50" y2="286.70" stroke="#333" stroke-width="0.9"/>
<line x1="304.90" y1="295.20" x2="308.10" y2="295.20" stroke="#555" stroke-width="0.9"/>
<line x1="325.80" y1="295.20" x2="329.00" y2="295.20" stroke="#555" stroke-width="0.9"/>
<line x1="347.00" y1="295.20" x2="350.80" y2="295.20" stroke="#333" stroke-width="0.9"/>
<line x1="348.90" y1="293.30" x2="348.90" y2="297.10" stroke="#333" stroke-width="0.9"/>
<line x1="368.90" y1="295.20" x2="372.10" y2="295.20" stroke="#555" stroke-width="0.9"/>
<line x1="304.90" y1="305.60" x2="308.10" y2="305.60" stroke="#555" stroke-width="0.9"/>
<line x1="325.80" y1="305.60" x2="329.00" y2="305.60" stroke="#555" stroke-width="0.9"/>
<line x1="347.30" y1="305.60" x2="350.50" y2="305.60" stroke="#555" stroke-width="0.9"/>
<line x1="368.60" y1="305.60" x2="372.40" y2="305.60" stroke="#333" stroke-width="0.9"/>
<line x1="370.50" y1="303.70" x2="370.50" y2="307.50" stroke="#333" stroke-width="0.9"/>
<text x="398.60" y="286.60" font-size="7.3" text-anchor="start" textLength="24.2" lengthAdjust="spacingAndGlyphs" stroke="#000" stroke-width="0.18" >RMAC8</text>
<text x="398.60" y="296.90" font-size="7.3" text-anchor="start" textLength="40.4" lengthAdjust="spacingAndGlyphs" stroke="#000" stroke-width="0.18" >anti-Fc&#947; RIIIb</text>
<text x="398.60" y="306.90" font-size="7.3" text-anchor="start" textLength="38.4" lengthAdjust="spacingAndGlyphs" stroke="#000" stroke-width="0.18" >anti-Fc&#947; RIIa</text>
<line x1="442.70" y1="284.80" x2="445.90" y2="284.80" stroke="#555" stroke-width="0.9"/>
<line x1="463.30" y1="284.80" x2="467.10" y2="284.80" stroke="#333" stroke-width="0.9"/>
<line x1="465.20" y1="282.90" x2="465.20" y2="286.70" stroke="#333" stroke-width="0.9"/>
<line x1="484.70" y1="284.80" x2="488.50" y2="284.80" stroke="#333" stroke-width="0.9"/>
<line x1="486.60" y1="282.90" x2="486.60" y2="286.70" stroke="#333" stroke-width="0.9"/>
<line x1="505.60" y1="284.80" x2="509.40" y2="284.80" stroke="#333" stroke-width="0.9"/>
<line x1="507.50" y1="282.90" x2="507.50" y2="286.70" stroke="#333" stroke-width="0.9"/>
<line x1="442.70" y1="295.20" x2="445.90" y2="295.20" stroke="#555" stroke-width="0.9"/>
<line x1="463.60" y1="295.20" x2="466.80" y2="295.20" stroke="#555" stroke-width="0.9"/>
<line x1="484.70" y1="295.20" x2="488.50" y2="295.20" stroke="#333" stroke-width="0.9"/>
<line x1="486.60" y1="293.30" x2="486.60" y2="297.10" stroke="#333" stroke-width="0.9"/>
<line x1="505.90" y1="295.20" x2="509.10" y2="295.20" stroke="#555" stroke-width="0.9"/>
<line x1="442.70" y1="305.80" x2="445.90" y2="305.80" stroke="#555" stroke-width="0.9"/>
<line x1="463.60" y1="305.80" x2="466.80" y2="305.80" stroke="#555" stroke-width="0.9"/>
<line x1="485.00" y1="305.80" x2="488.20" y2="305.80" stroke="#555" stroke-width="0.9"/>
<line x1="505.60" y1="305.80" x2="509.40" y2="305.80" stroke="#333" stroke-width="0.9"/>
<line x1="507.50" y1="303.90" x2="507.50" y2="307.70" stroke="#333" stroke-width="0.9"/>
</svg>
</body></html>
